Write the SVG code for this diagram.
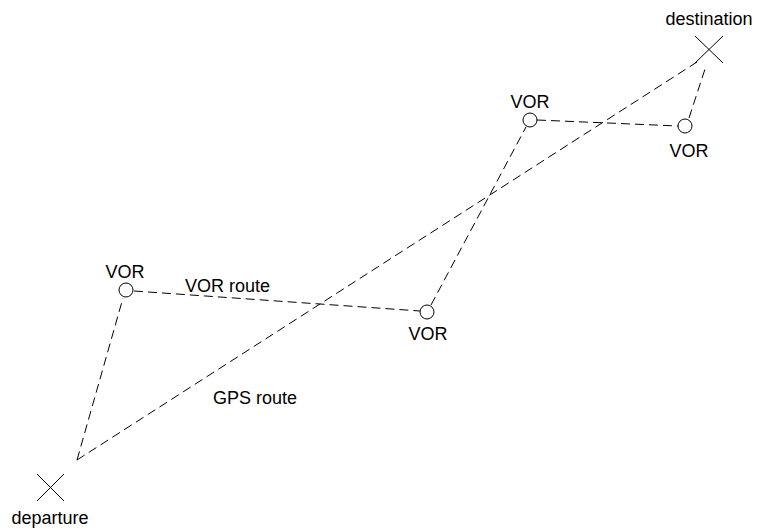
<svg xmlns="http://www.w3.org/2000/svg" width="761" height="529" viewBox="0 0 761 529">
<style>
text{font-family:"Liberation Sans",Arial,sans-serif;font-size:18px;fill:#000}
.c{text-anchor:middle}
.d{fill:none;stroke:#000;stroke-width:1;stroke-dasharray:9 5}
.s{fill:none;stroke:#000;stroke-width:1}
</style>
<rect width="761" height="529" fill="#fff"/>
<g id="connectors">
<line class="d" x1="77" y1="460" x2="697" y2="62"/>
<line class="d" x1="77" y1="460" x2="123" y2="298"/>
<line class="d" x1="134" y1="291" x2="420" y2="311"/>
<line class="d" x1="431" y1="305" x2="526" y2="127"/>
<line class="d" x1="537" y1="120" x2="678" y2="126"/>
<line class="d" x1="689" y1="118" x2="706" y2="66"/>
</g>
<g id="departure">
<path class="s" d="M37 474 L64 501 M64 474 L37 501"/>
<text class="c" x="50" y="524">departure</text>
</g>
<g id="destination">
<path class="s" d="M695 36 L723 63 M723 36 L695 63"/>
<text class="c" x="709" y="25">destination</text>
</g>
<g id="vor1">
<circle class="s" cx="126" cy="290" r="7"/>
<text class="c" x="125" y="278">VOR</text>
</g>
<g id="vor2">
<circle class="s" cx="427" cy="312" r="7"/>
<text class="c" x="428" y="340">VOR</text>
</g>
<g id="vor3">
<circle class="s" cx="530" cy="120" r="7"/>
<text class="c" x="530" y="108">VOR</text>
</g>
<g id="vor4">
<circle class="s" cx="685" cy="126" r="7"/>
<text class="c" x="689" y="157">VOR</text>
</g>
<g id="labels">
<text x="185" y="292">VOR route</text>
<text x="213" y="404">GPS route</text>
</g>
</svg>
